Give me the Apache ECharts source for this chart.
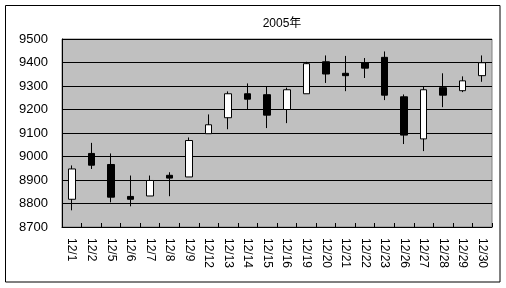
<!DOCTYPE html>
<html><head><meta charset="utf-8">
<script src="https://cdn.jsdelivr.net/npm/echarts@6/dist/echarts.min.js"></script>
<style>html,body{margin:0;padding:0;background:#fff}#c{width:506px;height:288px}</style>
</head><body><div id="c"></div>
<script>
const categories = ['12/1','12/2','12/5','12/6','12/7','12/8','12/9','12/12','12/13','12/14','12/15','12/16','12/19','12/20','12/21','12/22','12/23','12/26','12/27','12/28','12/29','12/30'];
const opens  = [8818, 9013, 8966, 8830, 8832, 8920, 8913, 9097, 9165, 9267, 9263, 9200, 9267, 9403, 9354, 9399, 9422, 9254, 9075, 9293, 9280, 9344];
const closes = [8947, 8963, 8827, 8818, 8898, 8908, 9068, 9135, 9267, 9244, 9176, 9284, 9395, 9351, 9344, 9376, 9261, 9091, 9284, 9261, 9322, 9399];
const lows   = [8771, 8947, 8805, 8788, 8832, 8831, 8913, 9097, 9116, 9200, 9121, 9142, 9267, 9313, 9278, 9334, 9240, 9053, 9023, 9210, 9274, 9318];
const highs  = [8962, 9058, 9013, 8919, 8919, 8933, 9081, 9179, 9277, 9311, 9300, 9293, 9403, 9430, 9428, 9419, 9447, 9264, 9297, 9354, 9341, 9430];
const yTicks = [8700, 8800, 8900, 9000, 9100, 9200, 9300, 9400, 9500];
const titleText = '2005年';

const data = categories.map((c, i) => [opens[i], closes[i], lows[i], highs[i]]);
const font = "'Liberation Sans','Noto Sans CJK JP',sans-serif";
const chart = echarts.init(document.getElementById('c'));
chart.setOption({
  animation: false,
  backgroundColor: '#fff',
  title: { text: titleText, left: 277, top: 13, textAlign: 'center',
    textStyle: { fontSize: 12, fontWeight: 'normal', color: '#000', fontFamily: font } },
  graphic: [{ type: 'rect', shape: { x: 5.5, y: 5.5, width: 494.5, height: 276.5 },
    style: { fill: 'none', stroke: '#000', lineWidth: 1 }, z: 10 }],
  grid: { left: 62, right: 14, top: 39, bottom: 61, show: true,
    backgroundColor: '#C0C0C0', borderColor: '#808080', borderWidth: 1 },
  xAxis: { type: 'category', data: categories, boundaryGap: true,
    axisLine: { lineStyle: { color: '#000', width: 1 } },
    axisTick: { show: true, inside: true, length: 4, alignWithLabel: false, lineStyle: { color: '#000' } },
    axisLabel: { rotate: -90, margin: 11, color: '#000', fontSize: 12, fontFamily: font, interval: 0 },
    splitLine: { show: false } },
  yAxis: { type: 'value', min: yTicks[0], max: yTicks[yTicks.length-1], interval: 100,
    axisLine: { show: true, lineStyle: { color: '#000', width: 1 } },
    axisTick: { show: false },
    axisLabel: { margin: 14, color: '#000', fontSize: 13, fontFamily: font, formatter: v => String(v) },
    splitLine: { show: true, lineStyle: { color: '#000', width: 1 } } },
  series: [{ type: 'candlestick', data: data, barWidth: 7,
    itemStyle: { color: '#fff', color0: '#000', borderColor: '#000', borderColor0: '#000', borderWidth: 1 } }]
});
</script></body></html>
